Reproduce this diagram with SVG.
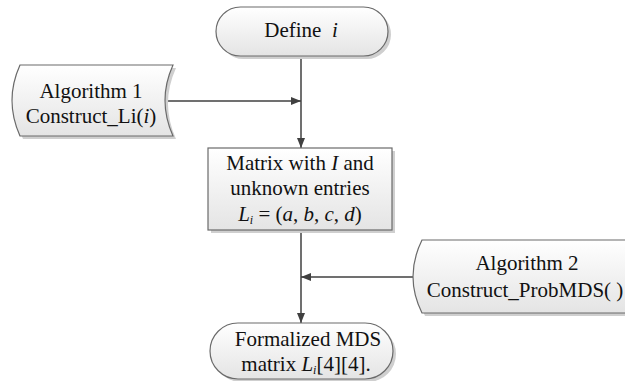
<svg xmlns="http://www.w3.org/2000/svg" width="625" height="381" viewBox="0 0 625 381">
<defs>
<linearGradient id="g" x1="0" y1="0" x2="0" y2="1">
<stop offset="0" stop-color="#ffffff"/>
<stop offset="1" stop-color="#e4e4e4"/>
</linearGradient>
<marker id="ah" viewBox="0 0 10 10" refX="10" refY="5" markerWidth="10" markerHeight="10" markerUnits="userSpaceOnUse" orient="auto">
<path d="M0,1 L10,5 L0,9 Z" fill="#404040"/>
</marker>
</defs>
<style>
.shape{fill:url(#g);stroke:#6a6a6a;stroke-width:1.2}
.shadow{fill:#cfcfcf;stroke:none}
.t{font-family:"Liberation Serif","Times New Roman",serif;font-size:21px;fill:#111111;text-anchor:middle}
.m{font-style:italic}
.conn{stroke:#404040;stroke-width:1.5;fill:none}
</style>
<rect width="625" height="381" fill="#ffffff"/>
<g id="connectors">
<line class="conn" x1="301" y1="56" x2="301" y2="148" marker-end="url(#ah)"/>
<line class="conn" x1="165" y1="101" x2="301" y2="101" marker-end="url(#ah)"/>
<line class="conn" x1="301" y1="230" x2="301" y2="323" marker-end="url(#ah)"/>
<line class="conn" x1="413" y1="277" x2="301" y2="277" marker-end="url(#ah)"/>
</g>
<g id="define">
<rect class="shadow" x="219" y="10" width="172" height="49" rx="24.5"/>
<rect class="shape" x="216" y="7" width="172" height="49" rx="24.5"/>
<text class="t" x="301" y="37" xml:space="preserve">Define  <tspan class="m">i</tspan></text>
</g>
<g id="alg1">
<path class="shadow" transform="translate(3,3)" d="M20,65 L173,65 Q157,100.5 173,136 L20,136 Q4,100.5 20,65 Z"/>
<path class="shape" d="M20,65 L173,65 Q157,100.5 173,136 L20,136 Q4,100.5 20,65 Z"/>
<text class="t" x="91" y="98">Algorithm 1</text>
<text class="t" x="91" y="123">Construct_Li(<tspan class="m">i</tspan>)</text>
</g>
<g id="matrix">
<rect class="shadow" x="211" y="151" width="184" height="82"/>
<rect class="shape" x="208" y="148" width="184" height="82"/>
<text class="t" x="300" y="170">Matrix with <tspan class="m">I</tspan> and</text>
<text class="t" x="300" y="195">unknown entries</text>
<text class="t" x="300" y="221" xml:space="preserve"><tspan class="m">L</tspan><tspan class="m" font-size="12" dy="3">i</tspan><tspan dy="-3"> = (</tspan><tspan class="m">a</tspan>, <tspan class="m">b</tspan>, <tspan class="m">c</tspan>, <tspan class="m">d</tspan>)</text>
</g>
<g id="alg2">
<path class="shadow" transform="translate(3,3)" d="M422,240 L640,240 Q624,276.5 640,313 L422,313 Q404,276.5 422,240 Z"/>
<path class="shape" d="M422,240 L640,240 Q624,276.5 640,313 L422,313 Q404,276.5 422,240 Z"/>
<text class="t" x="527" y="270">Algorithm 2</text>
<text class="t" x="525" y="297">Construct_ProbMDS( )</text>
</g>
<g id="formalized">
<rect class="shadow" x="213" y="326" width="183" height="56" rx="28"/>
<rect class="shape" x="210" y="323" width="183" height="56" rx="28"/>
<text class="t" x="308" y="346">Formalized MDS</text>
<text class="t" x="306" y="371">matrix <tspan class="m">L</tspan><tspan class="m" font-size="12" dy="3">i</tspan><tspan dy="-3">[4][4].</tspan></text>
</g>
</svg>
